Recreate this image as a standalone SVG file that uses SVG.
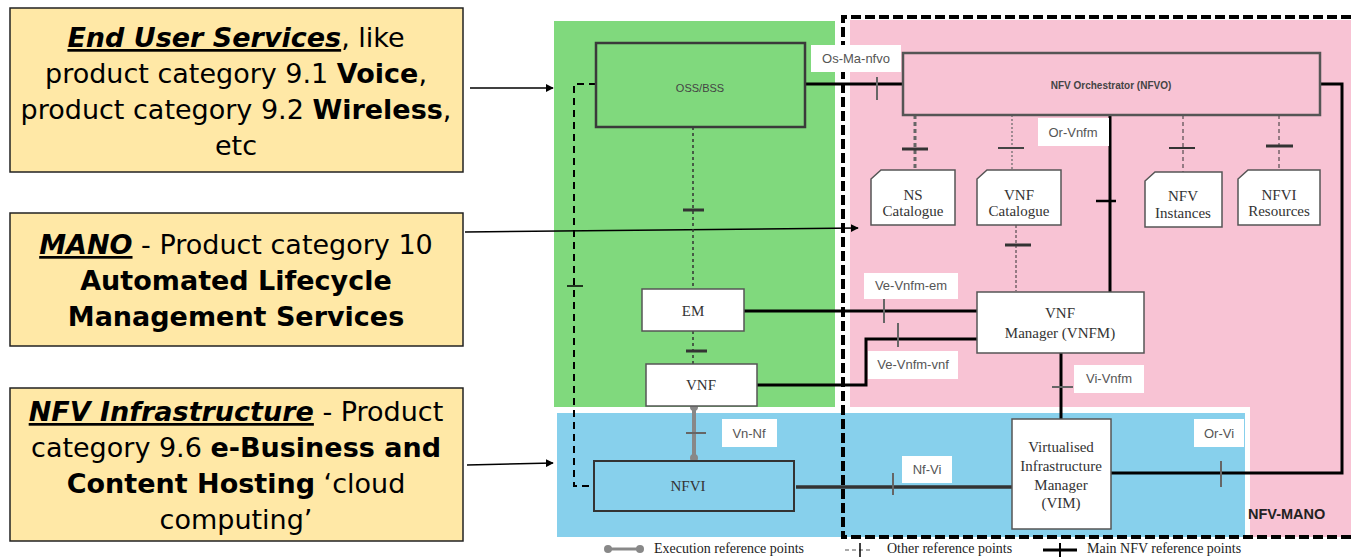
<svg xmlns="http://www.w3.org/2000/svg" width="1351" height="558" viewBox="0 0 1351 558">
<style>
.yb{fill:#FFE8A6;stroke:#222;stroke-width:1.5}
.yt{font-family:"DejaVu Sans","Liberation Sans",sans-serif;font-size:27px;fill:#000;text-anchor:middle}
.b{font-weight:bold}
.bi{font-weight:bold;font-style:italic;text-decoration:underline}
.lbl{fill:#fff}
.lt{font-family:"Liberation Sans",Arial,sans-serif;font-size:13px;fill:#555;text-anchor:middle}
.nt{font-family:"Liberation Serif","Times New Roman",serif;font-size:15px;fill:#333;text-anchor:middle}
.st{font-family:"Liberation Sans",Arial,sans-serif;fill:#444;text-anchor:middle}
.wbox{fill:#fff;stroke:#555;stroke-width:1.5}
.main{stroke:#000;stroke-width:3;fill:none}
.tick{stroke:#666;stroke-width:2}
.btick{stroke:#333;stroke-width:3}
.leg{font-family:"Liberation Serif","Times New Roman",serif;font-size:14px;fill:#222}
.arr{stroke:#000;stroke-width:1.5;fill:none;marker-end:url(#ah)}
</style>
<defs>
<marker id="ah" viewBox="0 0 10 10" refX="9" refY="5" markerWidth="8" markerHeight="8" markerUnits="userSpaceOnUse" orient="auto">
<path d="M0,0 L10,5 L0,10 Z" fill="#000"/>
</marker>
</defs>
<rect width="1351" height="558" fill="#fff"/>
<g id="regions">
<rect x="554" y="21" width="281" height="386" fill="#80D97D"/>
<rect x="850" y="20" width="501" height="517" fill="#F8C3D4"/>
<rect x="552" y="407" width="698" height="131" fill="#fff"/>
<rect x="557" y="413" width="688" height="124" fill="#87D0EC"/>
<path d="M1351,17 H843 V537 H1351" fill="none" stroke="#000" stroke-width="4" stroke-dasharray="10 4"/>
<text x="1248" y="519" font-family="Liberation Sans,Arial,sans-serif" font-size="14.5" font-weight="bold" fill="#222">NFV-MANO</text>
</g>
<g id="box-end-user">
<rect class="yb" x="10" y="8" width="453" height="164"/>
<text class="yt" x="236" y="47"><tspan class="bi">End User Services</tspan>, like</text>
<text class="yt" x="236" y="83">product category 9.1 <tspan class="b">Voice</tspan>,</text>
<text class="yt" x="236" y="119">product category 9.2 <tspan class="b">Wireless</tspan>,</text>
<text class="yt" x="236" y="155">etc</text>
</g>
<g id="box-mano">
<rect class="yb" x="10" y="213" width="453" height="133"/>
<text class="yt" x="236" y="254"><tspan class="bi">MANO</tspan> - Product category 10</text>
<text class="yt" x="236" y="290" font-weight="bold">Automated Lifecycle</text>
<text class="yt" x="236" y="326" font-weight="bold">Management Services</text>
</g>
<g id="box-nfvi-cat">
<rect class="yb" x="10" y="388" width="453" height="153"/>
<text class="yt" x="236" y="421"><tspan class="bi">NFV Infrastructure</tspan> - Product</text>
<text class="yt" x="236" y="457">category 9.6 <tspan class="b">e-Business and</tspan></text>
<text class="yt" x="236" y="493"><tspan class="b">Content Hosting</tspan> ‘cloud</text>
<text class="yt" x="236" y="529">computing’</text>
</g>
<g id="connectors">
<path class="arr" d="M470,88 H553"/>
<path class="arr" d="M465,232 L858,228"/>
<path class="arr" d="M467,465 L553,463"/>
<path class="main" d="M805,84 H903"/>
<path class="main" d="M1320,84 H1342 V473 H1111"/>
<path class="main" d="M1110,115 V292"/>
<path class="main" d="M744,311 H977"/>
<path class="main" d="M757,385 H866 V339 H977"/>
<path class="main" d="M1061,353 V419"/>
<path d="M796,487 H1012" stroke="#333" stroke-width="3.5" fill="none"/>
<line class="tick" x1="877" y1="77" x2="877" y2="100"/>
<line class="tick" x1="884" y1="299" x2="884" y2="323"/>
<line class="tick" x1="898" y1="323" x2="898" y2="347"/>
<line class="tick" x1="1052" y1="387" x2="1073" y2="387"/>
<line class="tick" x1="893" y1="473" x2="893" y2="495"/>
<line class="tick" x1="1221" y1="461" x2="1221" y2="487"/>
<line stroke="#000" stroke-width="2.5" x1="1096" y1="201" x2="1116" y2="201"/>
<path d="M693,127 V289" stroke="#333" stroke-width="1.5" stroke-dasharray="3 3" fill="none"/>
<line class="btick" stroke="#111" x1="683" y1="210" x2="704" y2="210"/>
<path d="M693,331 V364" stroke="#333" stroke-width="1.5" stroke-dasharray="3 3" fill="none"/>
<line class="btick" stroke="#111" x1="686" y1="351" x2="707" y2="351"/>
<path d="M915,115 V170" stroke="#666" stroke-width="3" stroke-dasharray="4 3" fill="none"/>
<line class="btick" stroke="#444" x1="902" y1="149" x2="928" y2="149"/>
<path d="M1012,115 V170" stroke="#666" stroke-width="1.2" stroke-dasharray="2 2" fill="none"/>
<line stroke="#444" stroke-width="2" x1="998" y1="148" x2="1024" y2="148"/>
<path d="M1016,225 V291" stroke="#333" stroke-width="1" stroke-dasharray="3 2" fill="none"/>
<line class="btick" x1="1005" y1="245" x2="1031" y2="245"/>
<path d="M1183,115 V172" stroke="#333" stroke-width="1" stroke-dasharray="4 3" fill="none"/>
<line stroke="#333" stroke-width="2" x1="1169" y1="148" x2="1195" y2="148"/>
<path d="M1279,115 V170" stroke="#333" stroke-width="1" stroke-dasharray="4 3" fill="none"/>
<line class="btick" stroke="#444" x1="1266" y1="146" x2="1293" y2="146"/>
<path d="M596,84 H574 V486 H594" stroke="#000" stroke-width="2" stroke-dasharray="7 5" fill="none"/>
<line stroke="#000" stroke-width="1.5" x1="567" y1="286" x2="583" y2="286"/>
<line x1="694" y1="407" x2="694" y2="458" stroke="#888" stroke-width="4"/>
<circle cx="694" cy="407" r="4" fill="#888"/>
<circle cx="694" cy="458" r="4" fill="#888"/>
<line class="tick" stroke="#555" x1="686" y1="433" x2="706" y2="433"/>
</g>
<g id="labels">
<rect class="lbl" x="811" y="45" width="90" height="27"/>
<text class="lt" x="856" y="63">Os-Ma-nfvo</text>
<rect class="lbl" x="1038" y="118" width="71" height="28"/>
<text class="lt" x="1073" y="137">Or-Vnfm</text>
<rect class="lbl" x="864" y="273" width="94" height="26"/>
<text class="lt" x="911" y="290">Ve-Vnfm-em</text>
<rect class="lbl" x="868" y="351" width="90" height="28"/>
<text class="lt" x="913" y="369">Ve-Vnfm-vnf</text>
<rect class="lbl" x="1074" y="365" width="70" height="28"/>
<text class="lt" x="1109" y="383">Vi-Vnfm</text>
<rect class="lbl" x="722" y="419" width="55" height="28"/>
<text class="lt" x="749" y="438">Vn-Nf</text>
<rect class="lbl" x="902" y="456" width="50" height="27"/>
<text class="lt" x="927" y="474">Nf-Vi</text>
<rect class="lbl" x="1194" y="419" width="50" height="28"/>
<text class="lt" x="1219" y="438">Or-Vi</text>
</g>
<g id="oss-bss">
<rect x="596" y="43" width="209" height="84" fill="none" stroke="#3a3a3a" stroke-width="2.5"/>
<text class="st" x="700" y="92" font-size="11">OSS/BSS</text>
</g>
<g id="nfvo">
<rect x="903" y="53" width="417" height="62" fill="none" stroke="#555" stroke-width="2.5"/>
<text class="st" x="1111" y="89" font-size="10" font-weight="bold" fill="#333">NFV Orchestrator (NFVO)</text>
</g>
<g id="ns-catalogue">
<path class="wbox" d="M881,170 H955 V225 H871 V179 Z"/>
<text class="nt" x="913" y="200">NS</text>
<text class="nt" x="913" y="216">Catalogue</text>
</g>
<g id="vnf-catalogue">
<path class="wbox" d="M987,170 H1061 V225 H977 V179 Z"/>
<text class="nt" x="1019" y="200">VNF</text>
<text class="nt" x="1019" y="216">Catalogue</text>
</g>
<g id="nfv-instances">
<path class="wbox" d="M1155,172 H1222 V227 H1145 V181 Z"/>
<text class="nt" x="1183" y="201">NFV</text>
<text class="nt" x="1183" y="218">Instances</text>
</g>
<g id="nfvi-resources">
<path class="wbox" d="M1248,170 H1320 V225 H1238 V179 Z"/>
<text class="nt" x="1279" y="200">NFVI</text>
<text class="nt" x="1279" y="216">Resources</text>
</g>
<g id="em">
<rect class="wbox" x="642" y="289" width="102" height="42"/>
<text class="nt" x="693" y="316">EM</text>
</g>
<g id="vnf">
<rect class="wbox" x="646" y="364" width="111" height="42"/>
<text class="nt" x="701" y="390">VNF</text>
</g>
<g id="vnfm">
<rect class="wbox" x="977" y="292" width="167" height="61"/>
<text class="nt" x="1060" y="318">VNF</text>
<text class="nt" x="1060" y="338">Manager (VNFM)</text>
</g>
<g id="vim">
<rect class="wbox" x="1012" y="419" width="99" height="110"/>
<text class="nt" x="1061" y="452">Virtualised</text>
<text class="nt" x="1061" y="471">Infrastructure</text>
<text class="nt" x="1061" y="490">Manager</text>
<text class="nt" x="1061" y="508">(VIM)</text>
</g>
<g id="nfvi">
<rect x="594" y="461" width="200" height="50" fill="none" stroke="#333" stroke-width="2"/>
<text class="nt" x="688" y="491" fill="#222">NFVI</text>
</g>
<g id="legend">
<line x1="608" y1="549" x2="640" y2="549" stroke="#888" stroke-width="3"/>
<circle cx="608" cy="549" r="4" fill="#888"/>
<circle cx="640" cy="549" r="4" fill="#888"/>
<text class="leg" x="654" y="553">Execution reference points</text>
<line x1="845" y1="550" x2="873" y2="550" stroke="#555" stroke-width="1.2" stroke-dasharray="4 3"/>
<line x1="860" y1="543" x2="860" y2="557" stroke="#000" stroke-width="1.5"/>
<text class="leg" x="887" y="553">Other reference points</text>
<line x1="1043" y1="550" x2="1077" y2="550" stroke="#000" stroke-width="3"/>
<line x1="1060" y1="543" x2="1060" y2="557" stroke="#000" stroke-width="2"/>
<text class="leg" x="1087" y="553">Main NFV reference points</text>
</g>
</svg>
